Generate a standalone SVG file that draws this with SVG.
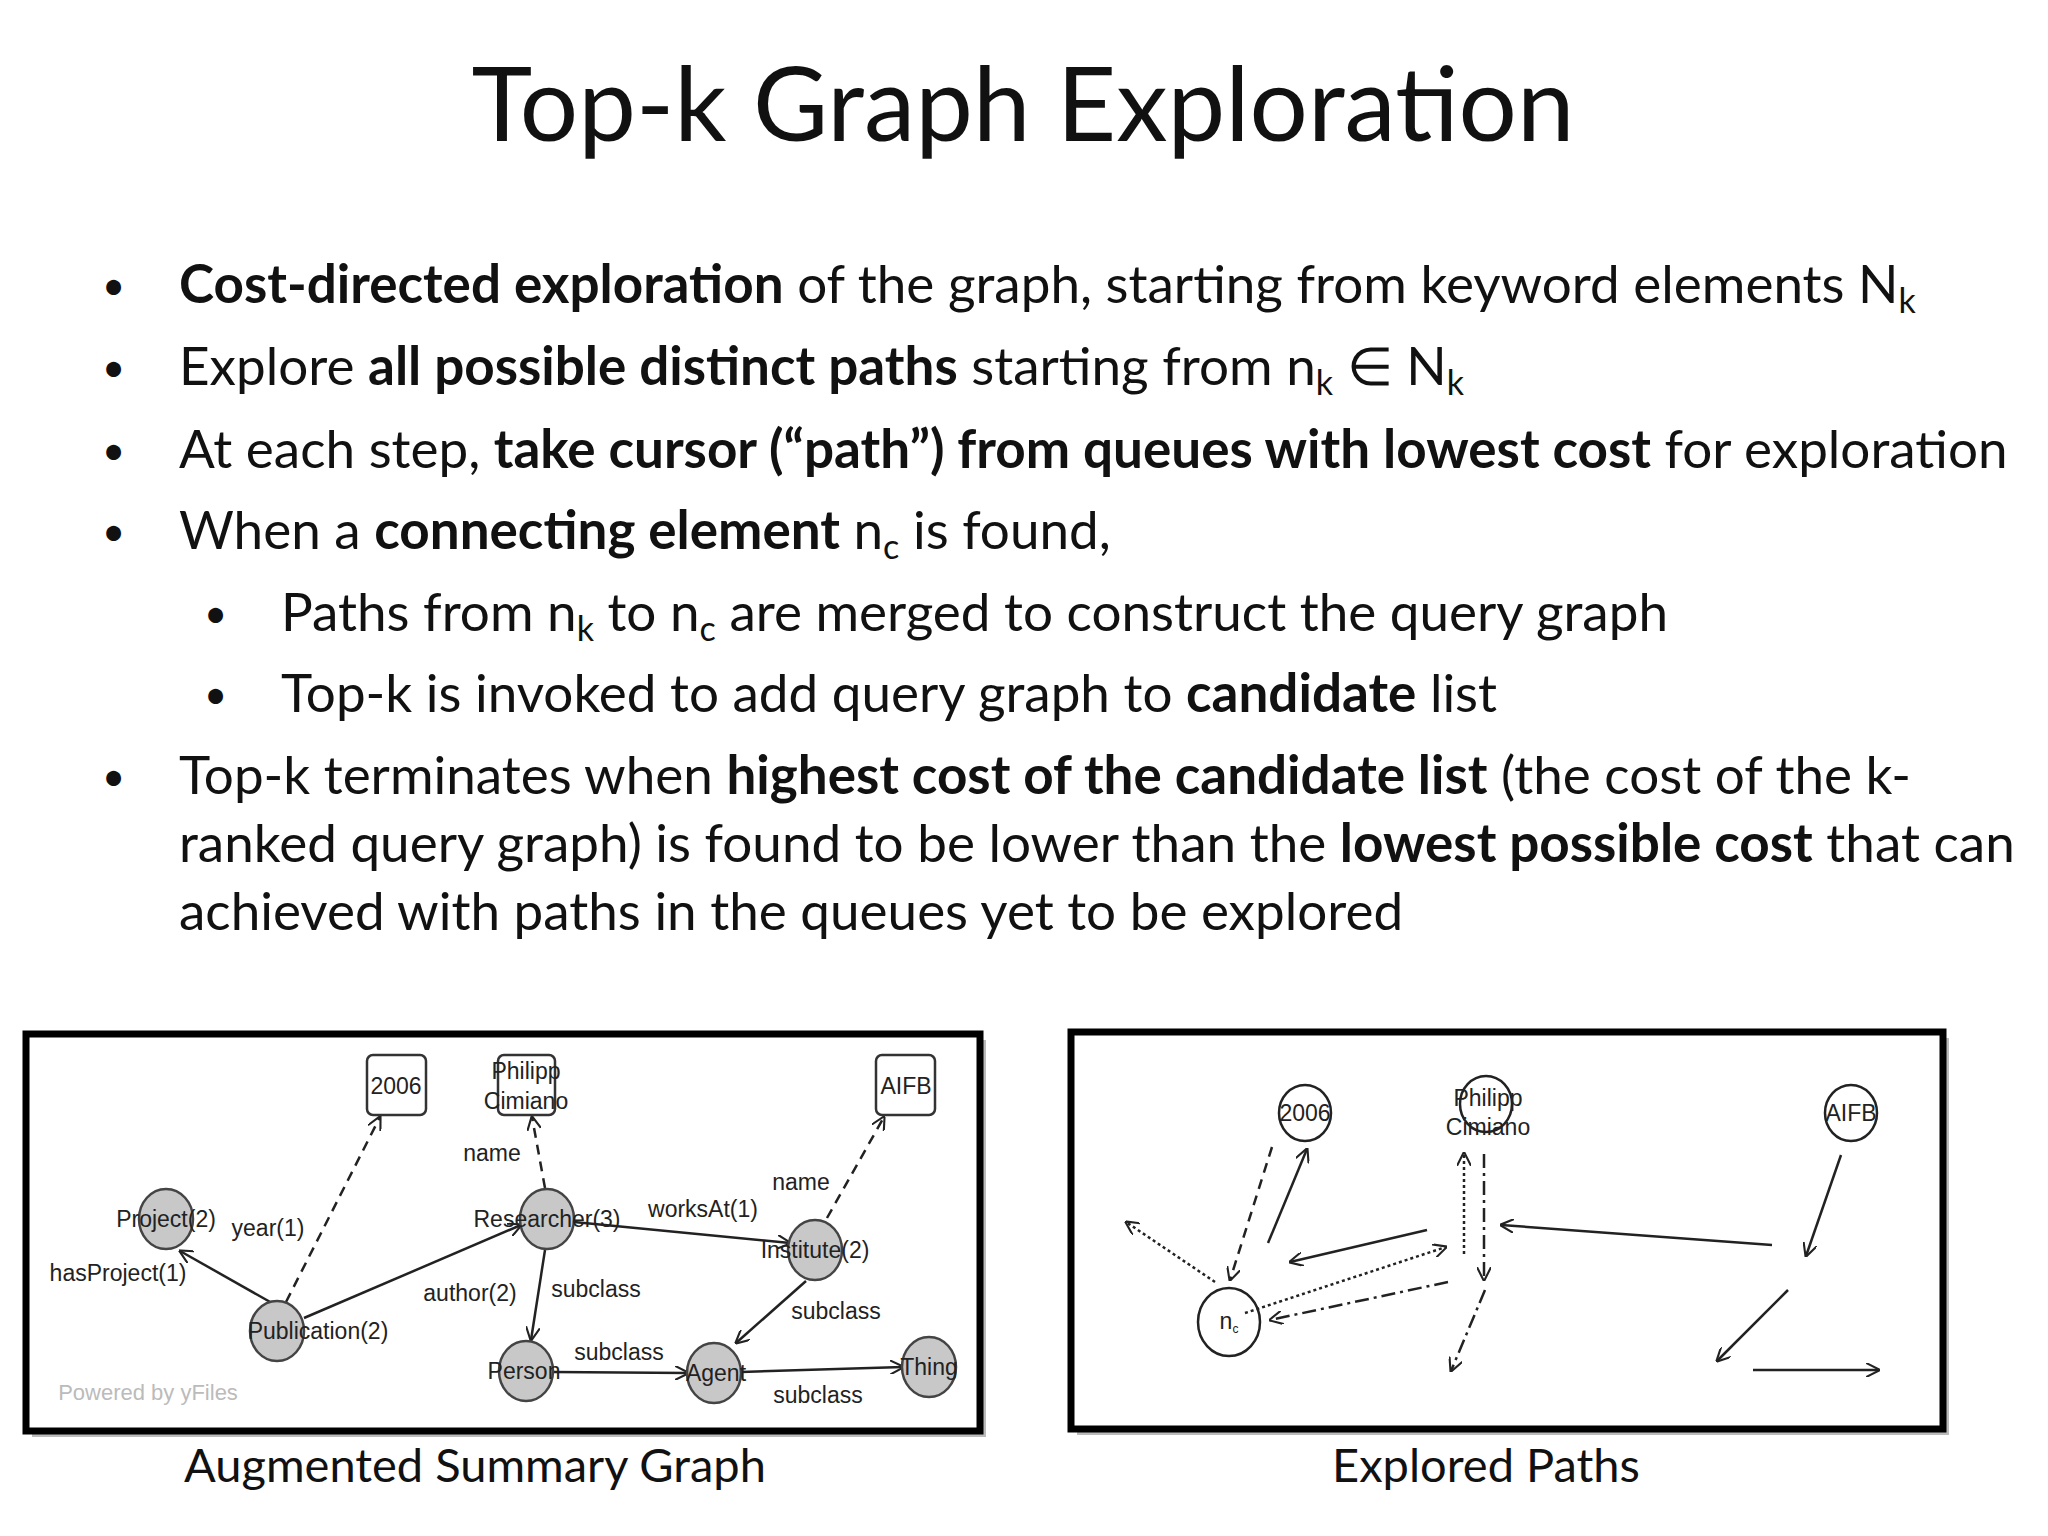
<svg xmlns="http://www.w3.org/2000/svg" width="2048" height="1536" viewBox="0 0 2048 1536">
<style>
.t{font-family:Lato,"Open Sans",sans-serif;font-size:53px;fill:#111}
.bu{font-family:Lato,"Open Sans",sans-serif;font-size:40px;fill:#111}
.b{font-weight:bold}
.s{font-family:"Liberation Sans",Arial,sans-serif;font-size:23px;fill:#222}
.n{fill:#c8c8c8;stroke:#444;stroke-width:2.5}
.bx{fill:#fff;stroke:#333;stroke-width:2.5}
.c{fill:#fff;stroke:#222;stroke-width:2.5}
.e{stroke:#222;stroke-width:2.5;fill:none;marker-end:url(#ah)}
.d{stroke-dasharray:10 7}
.dt{stroke-dasharray:3 3}
.dd{stroke-dasharray:14 5 3 5}
.frame{fill:#fff;stroke:#000;stroke-width:7}
</style>
<defs>
<marker id="ah" viewBox="0 0 12 12" refX="11" refY="6" markerWidth="14" markerHeight="14" markerUnits="userSpaceOnUse" orient="auto"><path d="M0,0 L12,6 L0,12" fill="none" stroke="#222" stroke-width="1.8"/></marker>
</defs>
<rect width="2048" height="1536" fill="#fff"/>
<text x="1023" y="141" text-anchor="middle" font-family="Lato,'Open Sans',sans-serif" font-size="103" fill="#111">Top-k Graph Exploration</text>
<g id="bullets">
<text class="bu" x="102" y="300">•</text>
<text class="t" x="179" y="303"><tspan class="b">Cost-directed exploration</tspan> of the graph, starting from keyword elements N<tspan font-size="34" dy="10">k</tspan></text>
<text class="bu" x="102" y="382">•</text>
<text class="t" x="179" y="385">Explore <tspan class="b">all possible distinct paths</tspan> starting from n<tspan font-size="34" dy="10">k</tspan><tspan dy="-10"> ∈ N</tspan><tspan font-size="34" dy="10">k</tspan></text>
<text class="bu" x="102" y="465">•</text>
<text class="t" x="179" y="468">At each step, <tspan class="b">take cursor (“path”) from queues with lowest cost</tspan> for exploration</text>
<text class="bu" x="102" y="546">•</text>
<text class="t" x="179" y="549">When a <tspan class="b">connecting element</tspan> n<tspan font-size="34" dy="10">c</tspan><tspan dy="-10"> is found,</tspan></text>
<text class="bu" x="204" y="628">•</text>
<text class="t" x="281" y="631">Paths from n<tspan font-size="34" dy="10">k</tspan><tspan dy="-10"> to n</tspan><tspan font-size="34" dy="10">c</tspan><tspan dy="-10"> are merged to construct the query graph</tspan></text>
<text class="bu" x="204" y="709">•</text>
<text class="t" x="281" y="712">Top-k is invoked to add query graph to <tspan class="b">candidate</tspan> list</text>
<text class="bu" x="102" y="791">•</text>
<text class="t" x="179" y="794">Top-k terminates when <tspan class="b">highest cost of the candidate list</tspan> (the cost of the k-</text>
<text class="t" x="179" y="862">ranked query graph) is found to be lower than the <tspan class="b">lowest possible cost</tspan> that can</text>
<text class="t" x="179" y="930">achieved with paths in the queues yet to be explored</text>
</g>
<rect x="32" y="1040" width="954" height="397" fill="#bbb"/>
<rect class="frame" x="26" y="1034" width="954" height="397"/>
<rect x="1077" y="1038" width="872" height="397" fill="#bbb"/>
<rect class="frame" x="1071" y="1032" width="872" height="397"/>
<g id="left-edges">
<line class="e" x1="272" y1="1303" x2="180" y2="1251"/>
<line class="e d" x1="286" y1="1302" x2="380" y2="1117"/>
<line class="e" x1="304" y1="1318" x2="521" y2="1225"/>
<line class="e d" x1="545" y1="1188" x2="532" y2="1117"/>
<line class="e" x1="574" y1="1222" x2="790" y2="1243"/>
<line class="e" x1="545" y1="1250" x2="531" y2="1340"/>
<line class="e d" x1="827" y1="1218" x2="884" y2="1117"/>
<line class="e" x1="806" y1="1281" x2="736" y2="1343"/>
<line class="e" x1="553" y1="1372" x2="688" y2="1373"/>
<line class="e" x1="741" y1="1372" x2="903" y2="1367"/>
</g>
<g id="left-nodes">
<g id="n2006"><rect class="bx" x="367" y="1055" width="59" height="60" rx="6"/><text class="s" x="396" y="1094" text-anchor="middle">2006</text></g>
<g id="nPhilipp"><rect class="bx" x="498" y="1055" width="57" height="60" rx="6"/><text class="s" x="526" y="1079" text-anchor="middle">Philipp</text><text class="s" x="526" y="1109" text-anchor="middle">Cimiano</text></g>
<g id="nAIFB"><rect class="bx" x="876" y="1055" width="59" height="60" rx="6"/><text class="s" x="906" y="1094" text-anchor="middle">AIFB</text></g>
<g id="nProject"><ellipse class="n" cx="166" cy="1219" rx="27" ry="30"/><text class="s" x="166" y="1227" text-anchor="middle">Project(2)</text></g>
<g id="nPublication"><ellipse class="n" cx="277" cy="1331" rx="27" ry="30"/><text class="s" x="318" y="1339" text-anchor="middle">Publication(2)</text></g>
<g id="nResearcher"><ellipse class="n" cx="547" cy="1219" rx="27" ry="30"/><text class="s" x="547" y="1227" text-anchor="middle">Researcher(3)</text></g>
<g id="nInstitute"><ellipse class="n" cx="815" cy="1250" rx="27" ry="30"/><text class="s" x="815" y="1258" text-anchor="middle">Institute(2)</text></g>
<g id="nPerson"><ellipse class="n" cx="526" cy="1371" rx="27" ry="30"/><text class="s" x="524" y="1379" text-anchor="middle">Person</text></g>
<g id="nAgent"><ellipse class="n" cx="714" cy="1373" rx="27" ry="30"/><text class="s" x="716" y="1381" text-anchor="middle">Agent</text></g>
<g id="nThing"><ellipse class="n" cx="929" cy="1367" rx="27" ry="30"/><text class="s" x="929" y="1375" text-anchor="middle">Thing</text></g>
</g>
<g id="left-labels">
<text class="s" x="268" y="1236" text-anchor="middle">year(1)</text>
<text class="s" x="118" y="1281" text-anchor="middle">hasProject(1)</text>
<text class="s" x="492" y="1161" text-anchor="middle">name</text>
<text class="s" x="703" y="1217" text-anchor="middle">worksAt(1)</text>
<text class="s" x="801" y="1190" text-anchor="middle">name</text>
<text class="s" x="470" y="1301" text-anchor="middle">author(2)</text>
<text class="s" x="596" y="1297" text-anchor="middle">subclass</text>
<text class="s" x="836" y="1319" text-anchor="middle">subclass</text>
<text class="s" x="619" y="1360" text-anchor="middle">subclass</text>
<text class="s" x="818" y="1403" text-anchor="middle">subclass</text>
<text x="148" y="1400" text-anchor="middle" font-family="Liberation Sans,Arial,sans-serif" font-size="22" fill="#bbb">Powered by yFiles</text>
</g>
<g id="right-nodes">
<g id="r2006"><ellipse class="c" cx="1305" cy="1113" rx="26" ry="28"/><text class="s" x="1305" y="1121" text-anchor="middle">2006</text></g>
<g id="rPhilipp"><ellipse class="c" cx="1486" cy="1104" rx="26" ry="28"/><text class="s" x="1488" y="1106" text-anchor="middle">Philipp</text><text class="s" x="1488" y="1135" text-anchor="middle">Cimiano</text></g>
<g id="rAIFB"><ellipse class="c" cx="1851" cy="1113" rx="26" ry="28"/><text class="s" x="1851" y="1121" text-anchor="middle">AIFB</text></g>
<g id="rnc"><ellipse class="c" cx="1229" cy="1322" rx="31" ry="34"/><text class="s" x="1229" y="1329" text-anchor="middle" font-size="20">n<tspan font-size="12" dy="4">c</tspan></text></g>
</g>
<g id="right-edges">
<line class="e dt" x1="1215" y1="1282" x2="1126" y2="1222"/>
<line class="e d" x1="1272" y1="1147" x2="1230" y2="1280"/>
<line class="e" x1="1268" y1="1243" x2="1307" y2="1149"/>
<line class="e" x1="1427" y1="1230" x2="1290" y2="1262"/>
<line class="e dt" x1="1245" y1="1313" x2="1446" y2="1247"/>
<line class="e dd" x1="1448" y1="1282" x2="1270" y2="1320"/>
<line class="e dt" x1="1464" y1="1254" x2="1464" y2="1153"/>
<line class="e dd" x1="1484" y1="1154" x2="1484" y2="1280"/>
<line class="e dd" x1="1485" y1="1290" x2="1451" y2="1371"/>
<line class="e" x1="1772" y1="1245" x2="1501" y2="1225"/>
<line class="e" x1="1841" y1="1155" x2="1806" y2="1256"/>
<line class="e" x1="1788" y1="1290" x2="1717" y2="1361"/>
<line class="e" x1="1753" y1="1370" x2="1879" y2="1370" stroke="#555"/>
</g>
<text x="475" y="1482" text-anchor="middle" font-family="Lato,'Open Sans',sans-serif" font-size="47" fill="#111">Augmented Summary Graph</text>
<text x="1486" y="1482" text-anchor="middle" font-family="Lato,'Open Sans',sans-serif" font-size="47" fill="#111">Explored Paths</text>
</svg>
